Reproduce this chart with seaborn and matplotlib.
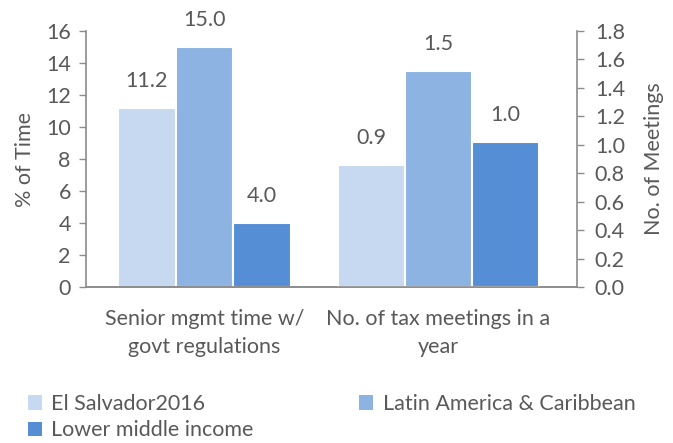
import pandas as pd
import seaborn as sns
import matplotlib.pyplot as plt
from matplotlib.patches import Patch

# data
categories = ["Senior mgmt time w/\ngovt regulations", "No. of tax meetings in a\nyear"]
series = ["El Salvador2016", "Latin America & Caribbean", "Lower middle income"]
pct_time = [11.2, 15.0, 4.0]        # left axis, first category
n_meetings = [0.86, 1.52, 1.02]     # right axis, second category
colors = ["#C6D9F0", "#8DB3E2", "#558ED5"]

TEXT = "#595959"
SPINE = "#8C8C8C"
FS = 15.5

sns.set_theme(style="white")
plt.rcParams["font.family"] = ["Lato", "DejaVu Sans"]
plt.rcParams["font.size"] = FS

df_left = pd.DataFrame({"cat": categories[0], "series": series, "value": pct_time})
df_right = pd.DataFrame({"cat": categories[1], "series": series, "value": n_meetings})

fig = plt.figure(figsize=(6.73, 4.43), dpi=100)
ax = fig.add_axes([0.128, 0.352, 0.729, 0.578])
ax2 = ax.twinx()

sns.barplot(data=df_left, x="cat", y="value", hue="series", order=categories,
            hue_order=series, palette=colors, saturation=1, width=0.74,
            edgecolor="white", linewidth=1.5, ax=ax, legend=False)
sns.barplot(data=df_right, x="cat", y="value", hue="series", order=categories,
            hue_order=series, palette=colors, saturation=1, width=0.86,
            edgecolor="white", linewidth=1.5, ax=ax2, legend=False)

for axis in (ax, ax2):
    for cont in axis.containers:
        axis.bar_label(cont, fmt="%.1f", padding=12, color=TEXT, fontsize=FS)

ax.set_xlim(-0.506, 1.592)
ax.set_ylim(0, 16)
ax.set_yticks(range(0, 17, 2))
ax2.set_ylim(0, 1.8)
ax2.set_yticks([i * 0.2 for i in range(10)])
ax2.set_yticklabels([f"{i * 0.2:.1f}" for i in range(10)])

ax.set_ylabel("% of Time", color=TEXT, fontsize=FS, labelpad=8)
ax2.set_ylabel("No. of Meetings", color=TEXT, fontsize=FS, labelpad=14)
ax.set_xlabel("")
ax2.set_xlabel("")

ax.set_xticks([0, 1])
ax.set_xticklabels(categories, color=TEXT, fontsize=FS, linespacing=1.5)
ax.tick_params(axis="x", length=0, pad=16)
ax.set_xticks([-0.503, 0.417, 1.589], minor=True)
ax.tick_params(axis="x", which="minor", length=6, width=1, color=SPINE, direction="out")

ax.tick_params(axis="y", length=5, width=1, color=SPINE, direction="out",
               left=True, labelcolor=TEXT, labelsize=FS, pad=6)
ax2.tick_params(axis="y", length=5, width=1, color=SPINE, direction="out",
                right=True, labelcolor=TEXT, labelsize=FS, pad=8)

for axis in (ax, ax2):
    axis.spines["top"].set_visible(False)
    for s in ("left", "right", "bottom"):
        axis.spines[s].set_color(SPINE)
        axis.spines[s].set_linewidth(1.2)
ax.spines["right"].set_visible(False)
ax2.spines["left"].set_visible(False)

# legend fills column-wise, so order entries to read row-wise like the reference
leg_order = [0, 2, 1]
handles = [Patch(facecolor=colors[i], edgecolor="none") for i in leg_order]
labels = [series[i] for i in leg_order]
fig.legend(handles, labels, loc="upper left", bbox_to_anchor=(0.025, 0.135),
           ncol=2, frameon=False, fontsize=FS, labelcolor=TEXT,
           handlelength=0.65, handleheight=0.65, handletextpad=0.45,
           columnspacing=4.9, borderpad=0, labelspacing=0.3)

fig.savefig("out.png", dpi=100)
